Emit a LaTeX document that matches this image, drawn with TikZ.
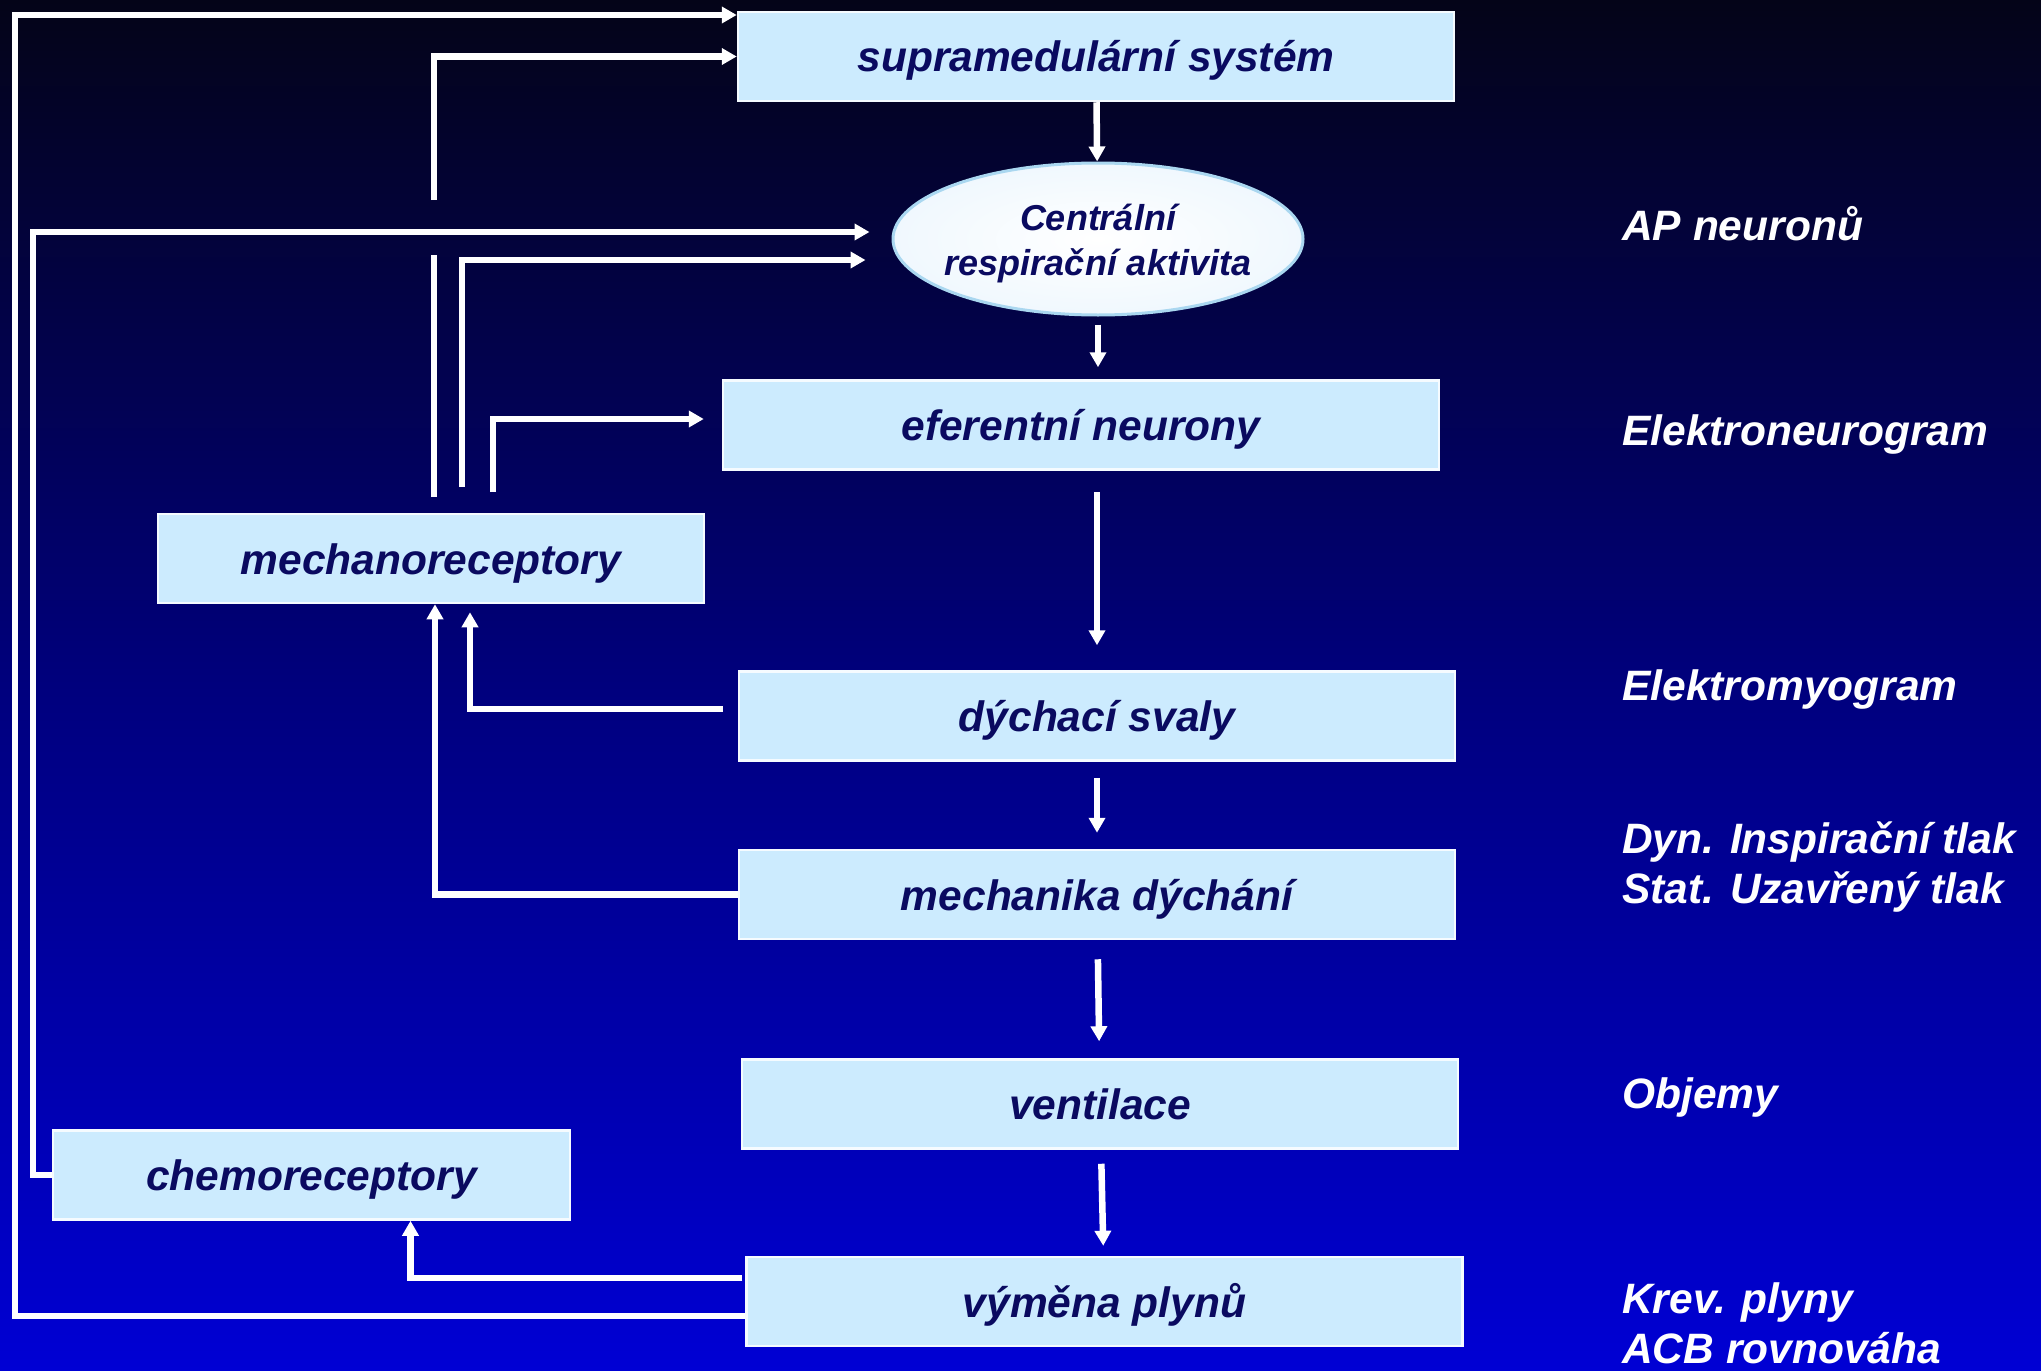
\documentclass[tikz,border=0pt]{standalone}
\usepackage{fontspec}
\setmainfont{Liberation Sans}
\usetikzlibrary{arrows.meta,shapes.geometric,calc}
\definecolor{boxfill}{RGB}{204,235,254}
\definecolor{boxtext}{RGB}{10,10,96}
\definecolor{bgtop}{RGB}{4,4,24}
\definecolor{bgmid}{RGB}{0,0,125}
\definecolor{bgbot}{RGB}{0,0,212}
\definecolor{ovalrim}{RGB}{170,215,240}
\definecolor{ovaledge}{RGB}{240,248,254}

\begin{document}
\begin{tikzpicture}[x=1pt,y=-1pt]
    \tikzset{%
      box/.style={draw=white!80!boxfill, line width=2.5pt, fill=boxfill,
        inner sep=0pt, minimum width=716pt, minimum height=89pt,
        text height=31pt, text depth=0pt,
        text=boxtext, font=\fontsize{42.5}{50}\selectfont\bfseries\itshape},
      oval/.style={ellipse, draw=ovalrim, line width=3pt, inner color=white,
        outer color=ovaledge, minimum width=410pt, minimum height=152pt,
        inner sep=0pt},
      ovaltext/.style={inner sep=0pt, align=center, text=boxtext,
        font=\fontsize{36}{45}\selectfont\bfseries\itshape},
      lab/.style={anchor=base west, inner sep=0pt, text=white,
        font=\fontsize{42.5}{50}\selectfont\bfseries\itshape},
      wire/.style={draw=white, line width=6.5pt},
      conn/.style={wire, -{Triangle[length=15pt,width=16pt]}},
    }
    % background
    \clip (0,0) rectangle (2041,1370);
    \shade[top color=bgtop, bottom color=bgbot, middle color=bgmid]
      (0,0) rectangle (2041,1370);

    % boxes
    \node[box] (supra) at (1096,56.5) {supramedulární systém};
    \node[oval] (crc) at (1098,239) {};
    \node[ovaltext] (crctext) at ($(crc.center)+(0,5)$) {Centrální\\respirační aktivita};
    \node[box] (efer) at (1081,425) {eferentní neurony};
    \node[box, minimum width=546pt] (mechr) at (431,558.5) {mechanoreceptory};
    \node[box] (svaly) at (1097,716) {dýchací svaly};
    \node[box] (mech) at (1097,894.5) {mechanika dýchání};
    \node[box] (vent) at (1100,1104) {ventilace};
    \node[box, minimum width=517pt] (chemr) at (311.5,1175) {chemoreceptory};
    \node[box] (vym) at (1104.5,1301.5) {výměna plynů};

    % measured quantities
    \node[lab] (apn) at (1622,240) {AP neuronů};
    \node[lab] (eng) at (1622,445) {Elektroneurogram};
    \node[lab] (emg) at (1622,700) {Elektromyogram};
    \node[lab] (dyn) at (1622,853) {Dyn. Inspirační tlak};
    \node[lab] (stat) at (1622,903) {Stat. Uzavřený tlak};
    \node[lab] (obj) at (1622,1108) {Objemy};
    \node[lab] (krev) at (1622,1313) {Krev. plyny};
    \node[lab] (acb) at (1622,1363) {ACB rovnováha};

    % main chain
    \draw[conn] (supra) -- (crc);
    \draw[conn, shorten <=8pt, shorten >=12pt] (crc.south) -- (crc.south |- efer.north);
    \draw[conn, shorten <=21pt, shorten >=25pt] (svaly.north |- efer.south) -- (svaly.north);
    \draw[conn, shorten <=16pt, shorten >=16pt] (svaly) -- (mech);
    \draw[conn, shorten <=19pt, shorten >=17pt] (mech) -- (vent);
    \draw[conn, shorten <=14pt, shorten >=10pt] (vent) -- (vym);

    % mechanoreceptory upwards
    \coordinate (m1) at (434,497);
    \coordinate (m1a) at (434,255);
    \coordinate (m1b) at (434,200);
    \draw[wire] (m1) -- (m1a);
    \draw[conn] (m1b) |- (supra.west);
    \coordinate (m2) at (462,487);
    \draw[conn] (m2) |- ($(crc.west)+(-26,21)$);
    \coordinate (m3) at (493,492);
    \draw[conn] (m3) |- ($(efer.west)+(-18,-6)$);

    % chemoreceptory and vymena plynu
    \coordinate (c1) at (33,232);
    \draw[conn] (chemr.west) -| (c1) -- ($(crc.west)+(-22,-7)$);
    \coordinate (v1) at (15,15);
    \draw[conn] ($(vym.west)+(0,14.5)$) -| (v1) -- (v1 -| supra.west);
    \draw[conn] ($(vym.west)+(-3,-23.5)$) -| ($(chemr.south)+(99,0)$);

    % feedback to mechanoreceptory
    \draw[conn] ($(svaly.west)+(-15,-7)$) -| ($(mechr.south)+(39,8)$);
    \draw[conn] (mech.west) -| ($(mechr.south)+(4,0)$);
\end{tikzpicture}
\end{document}
